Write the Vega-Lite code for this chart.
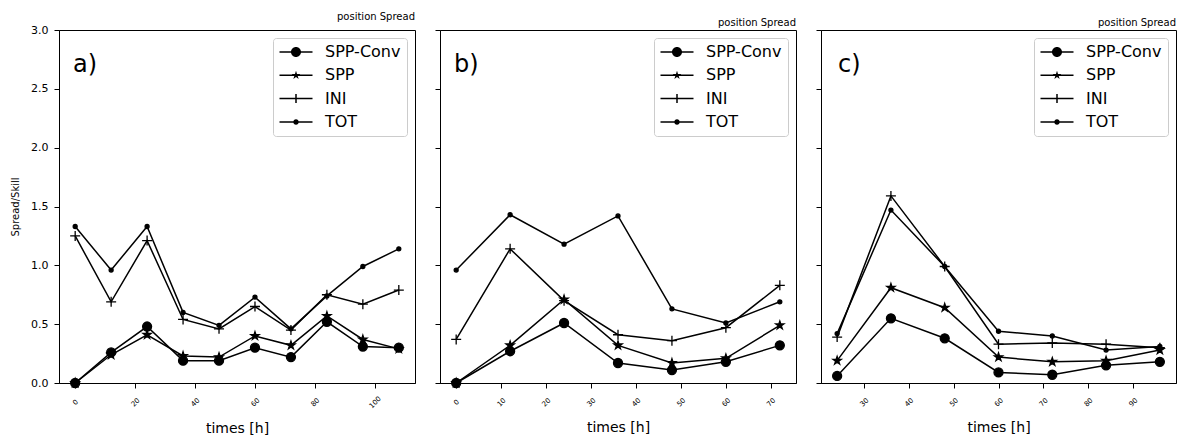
{
  "$schema": "https://vega.github.io/schema/vega-lite/v6.json",
  "padding": {"left": 10, "top": 11, "right": 5, "bottom": 2},
  "datasets": {
    "a": [
      {"time": 0, "series": "SPP-Conv", "value": 0.0},
      {"time": 12, "series": "SPP-Conv", "value": 0.26},
      {"time": 24, "series": "SPP-Conv", "value": 0.48},
      {"time": 36, "series": "SPP-Conv", "value": 0.19},
      {"time": 48, "series": "SPP-Conv", "value": 0.19},
      {"time": 60, "series": "SPP-Conv", "value": 0.30},
      {"time": 72, "series": "SPP-Conv", "value": 0.22},
      {"time": 84, "series": "SPP-Conv", "value": 0.52},
      {"time": 96, "series": "SPP-Conv", "value": 0.31},
      {"time": 108, "series": "SPP-Conv", "value": 0.30},
      {"time": 0, "series": "SPP", "value": 0.0},
      {"time": 12, "series": "SPP", "value": 0.24},
      {"time": 24, "series": "SPP", "value": 0.41},
      {"time": 36, "series": "SPP", "value": 0.23},
      {"time": 48, "series": "SPP", "value": 0.22},
      {"time": 60, "series": "SPP", "value": 0.40},
      {"time": 72, "series": "SPP", "value": 0.32},
      {"time": 84, "series": "SPP", "value": 0.57},
      {"time": 96, "series": "SPP", "value": 0.37},
      {"time": 108, "series": "SPP", "value": 0.29},
      {"time": 0, "series": "INI", "value": 1.25},
      {"time": 12, "series": "INI", "value": 0.69},
      {"time": 24, "series": "INI", "value": 1.21},
      {"time": 36, "series": "INI", "value": 0.54},
      {"time": 48, "series": "INI", "value": 0.46},
      {"time": 60, "series": "INI", "value": 0.65},
      {"time": 72, "series": "INI", "value": 0.45},
      {"time": 84, "series": "INI", "value": 0.75},
      {"time": 96, "series": "INI", "value": 0.67},
      {"time": 108, "series": "INI", "value": 0.79},
      {"time": 0, "series": "TOT", "value": 1.33},
      {"time": 12, "series": "TOT", "value": 0.96},
      {"time": 24, "series": "TOT", "value": 1.33},
      {"time": 36, "series": "TOT", "value": 0.60},
      {"time": 48, "series": "TOT", "value": 0.49},
      {"time": 60, "series": "TOT", "value": 0.73},
      {"time": 72, "series": "TOT", "value": 0.46},
      {"time": 84, "series": "TOT", "value": 0.74},
      {"time": 96, "series": "TOT", "value": 0.99},
      {"time": 108, "series": "TOT", "value": 1.14}
    ],
    "b": [
      {"time": 0, "series": "SPP-Conv", "value": 0.0},
      {"time": 12, "series": "SPP-Conv", "value": 0.27},
      {"time": 24, "series": "SPP-Conv", "value": 0.51},
      {"time": 36, "series": "SPP-Conv", "value": 0.17},
      {"time": 48, "series": "SPP-Conv", "value": 0.11},
      {"time": 60, "series": "SPP-Conv", "value": 0.18},
      {"time": 72, "series": "SPP-Conv", "value": 0.32},
      {"time": 0, "series": "SPP", "value": 0.0},
      {"time": 12, "series": "SPP", "value": 0.32},
      {"time": 24, "series": "SPP", "value": 0.71},
      {"time": 36, "series": "SPP", "value": 0.32},
      {"time": 48, "series": "SPP", "value": 0.17},
      {"time": 60, "series": "SPP", "value": 0.21},
      {"time": 72, "series": "SPP", "value": 0.49},
      {"time": 0, "series": "INI", "value": 0.37},
      {"time": 12, "series": "INI", "value": 1.14},
      {"time": 24, "series": "INI", "value": 0.70},
      {"time": 36, "series": "INI", "value": 0.41},
      {"time": 48, "series": "INI", "value": 0.36},
      {"time": 60, "series": "INI", "value": 0.47},
      {"time": 72, "series": "INI", "value": 0.83},
      {"time": 0, "series": "TOT", "value": 0.96},
      {"time": 12, "series": "TOT", "value": 1.43},
      {"time": 24, "series": "TOT", "value": 1.18},
      {"time": 36, "series": "TOT", "value": 1.42},
      {"time": 48, "series": "TOT", "value": 0.63},
      {"time": 60, "series": "TOT", "value": 0.51},
      {"time": 72, "series": "TOT", "value": 0.69}
    ],
    "c": [
      {"time": 24, "series": "SPP-Conv", "value": 0.06},
      {"time": 36, "series": "SPP-Conv", "value": 0.55},
      {"time": 48, "series": "SPP-Conv", "value": 0.38},
      {"time": 60, "series": "SPP-Conv", "value": 0.09},
      {"time": 72, "series": "SPP-Conv", "value": 0.07},
      {"time": 84, "series": "SPP-Conv", "value": 0.15},
      {"time": 96, "series": "SPP-Conv", "value": 0.18},
      {"time": 24, "series": "SPP", "value": 0.19},
      {"time": 36, "series": "SPP", "value": 0.81},
      {"time": 48, "series": "SPP", "value": 0.64},
      {"time": 60, "series": "SPP", "value": 0.22},
      {"time": 72, "series": "SPP", "value": 0.18},
      {"time": 84, "series": "SPP", "value": 0.19},
      {"time": 96, "series": "SPP", "value": 0.28},
      {"time": 24, "series": "INI", "value": 0.39},
      {"time": 36, "series": "INI", "value": 1.59},
      {"time": 48, "series": "INI", "value": 0.99},
      {"time": 60, "series": "INI", "value": 0.33},
      {"time": 72, "series": "INI", "value": 0.34},
      {"time": 84, "series": "INI", "value": 0.33},
      {"time": 96, "series": "INI", "value": 0.30},
      {"time": 24, "series": "TOT", "value": 0.42},
      {"time": 36, "series": "TOT", "value": 1.47},
      {"time": 48, "series": "TOT", "value": 0.99},
      {"time": 60, "series": "TOT", "value": 0.44},
      {"time": 72, "series": "TOT", "value": 0.40},
      {"time": 84, "series": "TOT", "value": 0.28},
      {"time": 96, "series": "TOT", "value": 0.31}
    ]
  },
  "spacing": 18,
  "hconcat": [
    {
      "width": 356, "height": 353,
      "title": {"text": "position Spread", "anchor": "end", "fontSize": 10, "fontWeight": "normal", "font": "DejaVu Sans", "color": "black", "offset": 2},
      "data": {"name": "a"},
      "layer": [
        {
          "mark": {"type": "line", "color": "black", "strokeWidth": 1.5},
          "encoding": {
            "x": {"field": "time", "type": "quantitative", "scale": {"domain": [-5.4, 113.4], "nice": false, "zero": false},
                  "axis": {"values": [0, 20, 40, 60, 80, 100], "title": "times [h]", "titleFontSize": 14, "labelFontSize": 7, "labelAngle": -45, "labelAlign": "center", "labelBaseline": "middle", "labelPadding": 14, "labelOverlap": false, "labelFlush": false, "titlePadding": 13}},
            "y": {"field": "value", "type": "quantitative", "scale": {"domain": [0, 3], "nice": false},
                  "axis": {"values": [0, 0.5, 1, 1.5, 2, 2.5, 3], "format": ".1f", "title": "Spread/Skill", "titleFontSize": 10, "labelFontSize": 11, "labelPadding": 6, "titlePadding": 10}},
            "detail": {"field": "series"}
          }
        },
        {
          "transform": [{"filter": "datum.series === 'SPP-Conv'"}],
          "mark": {"type": "point", "shape": "M0.9,0A0.9,0.9 0 1,0 -0.9,0A0.9,0.9 0 1,0 0.9,0Z", "filled": true, "color": "black", "stroke": "black", "strokeWidth": 1.3, "opacity": 1, "size": 100},
          "encoding": {"x": {"field": "time", "type": "quantitative"}, "y": {"field": "value", "type": "quantitative"}}
        },
        {
          "transform": [{"filter": "datum.series === 'SPP'"}],
          "mark": {"type": "point", "shape": "M0,-0.86L0.193,-0.266L0.818,-0.266L0.312,0.101L0.506,0.696L0,0.329L-0.506,0.696L-0.312,0.101L-0.818,-0.266L-0.193,-0.266Z", "filled": true, "color": "black", "stroke": "black", "strokeWidth": 1.3, "opacity": 1, "size": 100},
          "encoding": {"x": {"field": "time", "type": "quantitative"}, "y": {"field": "value", "type": "quantitative"}}
        },
        {
          "transform": [{"filter": "datum.series === 'INI'"}],
          "mark": {"type": "point", "shape": "M-1,0H1M0,-1V1", "filled": false, "color": "black", "stroke": "black", "strokeWidth": 1.3, "opacity": 1, "size": 100},
          "encoding": {"x": {"field": "time", "type": "quantitative"}, "y": {"field": "value", "type": "quantitative"}}
        },
        {
          "transform": [{"filter": "datum.series === 'TOT'"}],
          "mark": {"type": "point", "shape": "M0.4,0A0.4,0.4 0 1,0 -0.4,0A0.4,0.4 0 1,0 0.4,0Z", "filled": true, "color": "black", "stroke": "black", "strokeWidth": 1.3, "opacity": 1, "size": 100},
          "encoding": {"x": {"field": "time", "type": "quantitative"}, "y": {"field": "value", "type": "quantitative"}}
        },
        {
          "mark": {"type": "point", "filled": false, "color": "black", "fill": "black", "stroke": "black", "strokeWidth": 1.5, "opacity": 1, "size": 0},
          "encoding": {
            "x": {"field": "time", "type": "quantitative"},
            "y": {"field": "value", "type": "quantitative"},
            "shape": {"field": "series", "type": "nominal",
              "scale": {"domain": ["SPP-Conv", "SPP", "INI", "TOT"], "range": ["M-1.5,-0.15H5.1V0.15H-1.5ZM2.8,0A1,1 0 1,1 0.8,0A1,1 0 1,1 2.8,0Z", "M-1.5,-0.15H5.1V0.15H-1.5ZM1.8,-0.9L2.002,-0.278L2.656,-0.278L2.127,0.106L2.329,0.728L1.8,0.344L1.271,0.728L1.473,0.106L0.944,-0.278L1.598,-0.278Z", "M-1.5,-0.15H5.1V0.15H-1.5ZM1.65,-0.9H1.95V0.9H1.65Z", "M-1.5,-0.15H5.1V0.15H-1.5ZM2.35,0A0.55,0.55 0 1,1 1.25,0A0.55,0.55 0 1,1 2.35,0Z"]},
              "legend": {"title": null, "orient": "top-right", "offset": 8, "padding": 6, "fillColor": "white", "strokeColor": "#cccccc", "cornerRadius": 3, "labelFontSize": 16, "labelFont": "DejaVu Sans", "labelColor": "black", "symbolSize": 100, "symbolStrokeWidth": 1.5, "symbolFillColor": "black", "symbolStrokeColor": "black", "symbolOpacity": 1, "rowPadding": 7.3, "labelOffset": 30}}
          }
        },
        {
          "data": {"values": [{"label": "a)"}]},
          "mark": {"type": "text", "fontSize": 24, "align": "left", "baseline": "alphabetic", "font": "DejaVu Sans", "color": "black"},
          "encoding": {
            "x": {"datum": -0.7, "type": "quantitative"},
            "y": {"datum": 2.64, "type": "quantitative"},
            "text": {"field": "label"}
          }
        }
      ]
    },
    {
      "width": 356, "height": 353,
      "title": {"text": "position Spread", "anchor": "end", "fontSize": 10, "fontWeight": "normal", "font": "DejaVu Sans", "color": "black", "offset": 2},
      "data": {"name": "b"},
      "layer": [
        {
          "mark": {"type": "line", "color": "black", "strokeWidth": 1.5},
          "encoding": {
            "x": {"field": "time", "type": "quantitative", "scale": {"domain": [-3.6, 75.6], "nice": false, "zero": false},
                  "axis": {"values": [0, 10, 20, 30, 40, 50, 60, 70], "title": "times [h]", "titleFontSize": 14, "labelFontSize": 7, "labelAngle": -45, "labelAlign": "center", "labelBaseline": "middle", "labelPadding": 14, "labelOverlap": false, "labelFlush": false, "titlePadding": 13}},
            "y": {"field": "value", "type": "quantitative", "scale": {"domain": [0, 3], "nice": false},
                  "axis": {"values": [0, 0.5, 1, 1.5, 2, 2.5, 3], "labels": false, "title": null}},
            "detail": {"field": "series"}
          }
        },
        {
          "transform": [{"filter": "datum.series === 'SPP-Conv'"}],
          "mark": {"type": "point", "shape": "M0.9,0A0.9,0.9 0 1,0 -0.9,0A0.9,0.9 0 1,0 0.9,0Z", "filled": true, "color": "black", "stroke": "black", "strokeWidth": 1.3, "opacity": 1, "size": 100},
          "encoding": {"x": {"field": "time", "type": "quantitative"}, "y": {"field": "value", "type": "quantitative"}}
        },
        {
          "transform": [{"filter": "datum.series === 'SPP'"}],
          "mark": {"type": "point", "shape": "M0,-0.86L0.193,-0.266L0.818,-0.266L0.312,0.101L0.506,0.696L0,0.329L-0.506,0.696L-0.312,0.101L-0.818,-0.266L-0.193,-0.266Z", "filled": true, "color": "black", "stroke": "black", "strokeWidth": 1.3, "opacity": 1, "size": 100},
          "encoding": {"x": {"field": "time", "type": "quantitative"}, "y": {"field": "value", "type": "quantitative"}}
        },
        {
          "transform": [{"filter": "datum.series === 'INI'"}],
          "mark": {"type": "point", "shape": "M-1,0H1M0,-1V1", "filled": false, "color": "black", "stroke": "black", "strokeWidth": 1.3, "opacity": 1, "size": 100},
          "encoding": {"x": {"field": "time", "type": "quantitative"}, "y": {"field": "value", "type": "quantitative"}}
        },
        {
          "transform": [{"filter": "datum.series === 'TOT'"}],
          "mark": {"type": "point", "shape": "M0.4,0A0.4,0.4 0 1,0 -0.4,0A0.4,0.4 0 1,0 0.4,0Z", "filled": true, "color": "black", "stroke": "black", "strokeWidth": 1.3, "opacity": 1, "size": 100},
          "encoding": {"x": {"field": "time", "type": "quantitative"}, "y": {"field": "value", "type": "quantitative"}}
        },
        {
          "mark": {"type": "point", "filled": false, "color": "black", "fill": "black", "stroke": "black", "strokeWidth": 1.5, "opacity": 1, "size": 0},
          "encoding": {
            "x": {"field": "time", "type": "quantitative"},
            "y": {"field": "value", "type": "quantitative"},
            "shape": {"field": "series", "type": "nominal",
              "scale": {"domain": ["SPP-Conv", "SPP", "INI", "TOT"], "range": ["M-1.5,-0.15H5.1V0.15H-1.5ZM2.8,0A1,1 0 1,1 0.8,0A1,1 0 1,1 2.8,0Z", "M-1.5,-0.15H5.1V0.15H-1.5ZM1.8,-0.9L2.002,-0.278L2.656,-0.278L2.127,0.106L2.329,0.728L1.8,0.344L1.271,0.728L1.473,0.106L0.944,-0.278L1.598,-0.278Z", "M-1.5,-0.15H5.1V0.15H-1.5ZM1.65,-0.9H1.95V0.9H1.65Z", "M-1.5,-0.15H5.1V0.15H-1.5ZM2.35,0A0.55,0.55 0 1,1 1.25,0A0.55,0.55 0 1,1 2.35,0Z"]},
              "legend": {"title": null, "orient": "top-right", "offset": 8, "padding": 6, "fillColor": "white", "strokeColor": "#cccccc", "cornerRadius": 3, "labelFontSize": 16, "labelFont": "DejaVu Sans", "labelColor": "black", "symbolSize": 100, "symbolStrokeWidth": 1.5, "symbolFillColor": "black", "symbolStrokeColor": "black", "symbolOpacity": 1, "rowPadding": 7.3, "labelOffset": 30}}
          }
        },
        {
          "data": {"values": [{"label": "b)"}]},
          "mark": {"type": "text", "fontSize": 24, "align": "left", "baseline": "alphabetic", "font": "DejaVu Sans", "color": "black"},
          "encoding": {
            "x": {"datum": -0.5, "type": "quantitative"},
            "y": {"datum": 2.64, "type": "quantitative"},
            "text": {"field": "label"}
          }
        }
      ]
    },
    {
      "width": 355, "height": 353,
      "title": {"text": "position Spread", "anchor": "end", "fontSize": 10, "fontWeight": "normal", "font": "DejaVu Sans", "color": "black", "offset": 2},
      "data": {"name": "c"},
      "layer": [
        {
          "mark": {"type": "line", "color": "black", "strokeWidth": 1.5},
          "encoding": {
            "x": {"field": "time", "type": "quantitative", "scale": {"domain": [20.4, 99.6], "nice": false, "zero": false},
                  "axis": {"values": [30, 40, 50, 60, 70, 80, 90], "title": "times [h]", "titleFontSize": 14, "labelFontSize": 7, "labelAngle": -45, "labelAlign": "center", "labelBaseline": "middle", "labelPadding": 14, "labelOverlap": false, "labelFlush": false, "titlePadding": 13}},
            "y": {"field": "value", "type": "quantitative", "scale": {"domain": [0, 3], "nice": false},
                  "axis": {"values": [0, 0.5, 1, 1.5, 2, 2.5, 3], "labels": false, "title": null}},
            "detail": {"field": "series"}
          }
        },
        {
          "transform": [{"filter": "datum.series === 'SPP-Conv'"}],
          "mark": {"type": "point", "shape": "M0.9,0A0.9,0.9 0 1,0 -0.9,0A0.9,0.9 0 1,0 0.9,0Z", "filled": true, "color": "black", "stroke": "black", "strokeWidth": 1.3, "opacity": 1, "size": 100},
          "encoding": {"x": {"field": "time", "type": "quantitative"}, "y": {"field": "value", "type": "quantitative"}}
        },
        {
          "transform": [{"filter": "datum.series === 'SPP'"}],
          "mark": {"type": "point", "shape": "M0,-0.86L0.193,-0.266L0.818,-0.266L0.312,0.101L0.506,0.696L0,0.329L-0.506,0.696L-0.312,0.101L-0.818,-0.266L-0.193,-0.266Z", "filled": true, "color": "black", "stroke": "black", "strokeWidth": 1.3, "opacity": 1, "size": 100},
          "encoding": {"x": {"field": "time", "type": "quantitative"}, "y": {"field": "value", "type": "quantitative"}}
        },
        {
          "transform": [{"filter": "datum.series === 'INI'"}],
          "mark": {"type": "point", "shape": "M-1,0H1M0,-1V1", "filled": false, "color": "black", "stroke": "black", "strokeWidth": 1.3, "opacity": 1, "size": 100},
          "encoding": {"x": {"field": "time", "type": "quantitative"}, "y": {"field": "value", "type": "quantitative"}}
        },
        {
          "transform": [{"filter": "datum.series === 'TOT'"}],
          "mark": {"type": "point", "shape": "M0.4,0A0.4,0.4 0 1,0 -0.4,0A0.4,0.4 0 1,0 0.4,0Z", "filled": true, "color": "black", "stroke": "black", "strokeWidth": 1.3, "opacity": 1, "size": 100},
          "encoding": {"x": {"field": "time", "type": "quantitative"}, "y": {"field": "value", "type": "quantitative"}}
        },
        {
          "mark": {"type": "point", "filled": false, "color": "black", "fill": "black", "stroke": "black", "strokeWidth": 1.5, "opacity": 1, "size": 0},
          "encoding": {
            "x": {"field": "time", "type": "quantitative"},
            "y": {"field": "value", "type": "quantitative"},
            "shape": {"field": "series", "type": "nominal",
              "scale": {"domain": ["SPP-Conv", "SPP", "INI", "TOT"], "range": ["M-1.5,-0.15H5.1V0.15H-1.5ZM2.8,0A1,1 0 1,1 0.8,0A1,1 0 1,1 2.8,0Z", "M-1.5,-0.15H5.1V0.15H-1.5ZM1.8,-0.9L2.002,-0.278L2.656,-0.278L2.127,0.106L2.329,0.728L1.8,0.344L1.271,0.728L1.473,0.106L0.944,-0.278L1.598,-0.278Z", "M-1.5,-0.15H5.1V0.15H-1.5ZM1.65,-0.9H1.95V0.9H1.65Z", "M-1.5,-0.15H5.1V0.15H-1.5ZM2.35,0A0.55,0.55 0 1,1 1.25,0A0.55,0.55 0 1,1 2.35,0Z"]},
              "legend": {"title": null, "orient": "top-right", "offset": 8, "padding": 6, "fillColor": "white", "strokeColor": "#cccccc", "cornerRadius": 3, "labelFontSize": 16, "labelFont": "DejaVu Sans", "labelColor": "black", "symbolSize": 100, "symbolStrokeWidth": 1.5, "symbolFillColor": "black", "symbolStrokeColor": "black", "symbolOpacity": 1, "rowPadding": 7.3, "labelOffset": 30}}
          }
        },
        {
          "data": {"values": [{"label": "c)"}]},
          "mark": {"type": "text", "fontSize": 24, "align": "left", "baseline": "alphabetic", "font": "DejaVu Sans", "color": "black"},
          "encoding": {
            "x": {"datum": 24.2, "type": "quantitative"},
            "y": {"datum": 2.64, "type": "quantitative"},
            "text": {"field": "label"}
          }
        }
      ]
    }
  ],
  "resolve": {
    "scale": {"x": "independent", "y": "independent", "shape": "independent"},
    "legend": {"shape": "independent"}
  },
  "config": {
    "font": "DejaVu Sans",
    "background": "white",
    "view": {"stroke": "black", "strokeWidth": 1},
    "axis": {"grid": false, "domainColor": "black", "domainWidth": 1, "tickColor": "black", "tickSize": 5, "tickWidth": 1, "labelColor": "black", "titleColor": "black", "titleFontWeight": "normal", "labelFont": "DejaVu Sans", "titleFont": "DejaVu Sans"}
  }
}
